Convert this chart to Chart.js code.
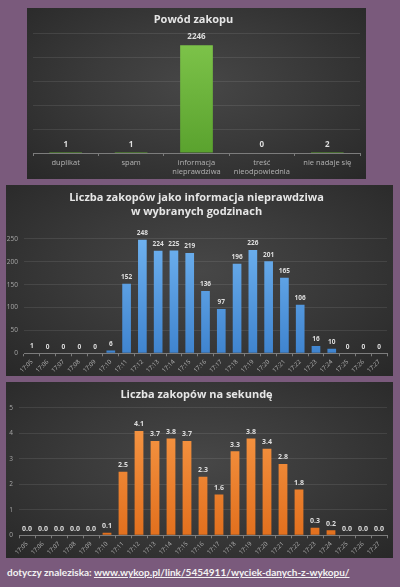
<!DOCTYPE html>
<html>
<head>
<meta charset="utf-8">
<script src="https://cdn.jsdelivr.net/npm/chart.js@4.4.0/dist/chart.umd.min.js"></script>
<style>
  html,body{margin:0;padding:0;}
  body{width:400px;height:587px;background:#7a5a7c;position:relative;overflow:hidden;font-family:"Open Sans",sans-serif;}
  .panel{position:absolute;background:radial-gradient(ellipse at 50% 45%, #474747 0%, #3a3a3a 45%, #282828 100%);}
  .panel canvas{display:block;}
  #footer{position:absolute;left:7px;top:566px;font-family:Lato,sans-serif;font-weight:bold;font-size:10px;color:#f2f2f2;white-space:nowrap;}
  #footer span{text-decoration:underline;}
</style>
</head>
<body>
<div class="panel" style="left:27px;top:8px;width:339px;height:171px;"><canvas id="c1" width="339" height="171"></canvas></div>
<div class="panel" style="left:6px;top:185px;width:387px;height:191px;"><canvas id="c2" width="387" height="191"></canvas></div>
<div class="panel" style="left:6px;top:382px;width:387px;height:176px;"><canvas id="c3" width="387" height="176"></canvas></div>
<div id="footer">dotyczy znaleziska: <span>www.wykop.pl/link/5454911/wyciek-danych-z-wykopu/</span></div>
<script>
// ---- data ----
const reasons = ['duplikat', 'spam', ['informacja', 'nieprawdziwa'], ['treść', 'nieodpowiednia'], 'nie nadaje się'];
const reasonCounts = [1, 1, 2246, 0, 2];
const minutes = ['17:05','17:06','17:07','17:08','17:09','17:10','17:11','17:12','17:13','17:14','17:15','17:16','17:17','17:18','17:19','17:20','17:21','17:22','17:23','17:24','17:25','17:26','17:27'];
const perMinute = [1, 0, 0, 0, 0, 6, 152, 248, 224, 225, 219, 136, 97, 196, 226, 201, 165, 106, 16, 10, 0, 0, 0];
const perSecond = [0.0, 0.0, 0.0, 0.0, 0.0, 0.1, 2.5, 4.1, 3.7, 3.8, 3.7, 2.3, 1.6, 3.3, 3.8, 3.4, 2.8, 1.8, 0.3, 0.2, 0.0, 0.0, 0.0];
const titles = ['Powód zakopu', ['Liczba zakopów jako informacja nieprawdziwa', 'w wybranych godzinach'], 'Liczba zakopów na sekundę'];

Chart.defaults.font.family = '"Open Sans", sans-serif';
Chart.defaults.animation = false;

function grad(top, bottom) {
  return (ctx) => {
    const c = ctx.chart, a = c.chartArea;
    if (!a) return bottom;
    const g = c.ctx.createLinearGradient(0, a.top, 0, a.bottom);
    g.addColorStop(0, top);
    g.addColorStop(1, bottom);
    return g;
  };
}

const valueLabels = {
  id: 'valueLabels',
  afterDatasetsDraw(chart, args, opts) {
    const ctx = chart.ctx;
    const meta = chart.getDatasetMeta(0);
    const data = chart.data.datasets[0].data;
    ctx.save();
    ctx.font = opts.font;
    ctx.fillStyle = opts.color;
    ctx.textAlign = 'center';
    ctx.textBaseline = 'middle';
    meta.data.forEach((bar, i) => {
      ctx.fillText(opts.format(data[i]), bar.x, bar.y - opts.offset);
    });
    ctx.restore();
  }
};

const gridCol = 'rgba(255,255,255,0.09)';
const axisCol = '#7c7c7c';
const titleCol = '#e6e6e6';

function makeChart(id, cfg) {
  return new Chart(document.getElementById(id), {
    type: 'bar',
    data: { labels: cfg.labels, datasets: [{ data: cfg.data, backgroundColor: grad(cfg.top, cfg.bottom), categoryPercentage: 1, barPercentage: cfg.barPct }] },
    plugins: [valueLabels],
    options: {
      responsive: false,
      layout: { padding: { left: 0, right: 6, top: 0, bottom: 0 } },
      plugins: {
        legend: { display: false },
        tooltip: { enabled: false },
        title: { display: true, text: cfg.title, color: titleCol, font: { size: cfg.titleSize, weight: 'bold', lineHeight: cfg.titleLH }, padding: cfg.titlePad },
        valueLabels: { font: cfg.labelFont, color: '#dedede', offset: cfg.labelOffset, format: cfg.format }
      },
      scales: {
        x: {
          grid: { display: true, drawOnChartArea: false, color: axisCol, tickLength: 3, offset: true },
          border: { display: true, color: axisCol },
          ticks: { color: '#b3b3b3', font: { size: cfg.xFont }, padding: cfg.xPad, maxRotation: cfg.rot, minRotation: cfg.rot, autoSkip: false },
          afterFit: (s) => { s.height = cfg.xH; }
        },
        y: {
          min: 0, max: cfg.max,
          grid: { color: gridCol, drawTicks: false },
          border: { display: false },
          ticks: { display: cfg.yTicks, stepSize: cfg.step, color: '#a6a6a6', font: { size: 6.5 }, padding: 6 },
          afterFit: (s) => { s.width = cfg.yW; }
        }
      }
    }
  });
}

makeChart('c1', {
  labels: reasons, data: reasonCounts, top: '#80c64c', bottom: '#5aa22e', barPct: 0.5,
  title: titles[0], titleSize: 11, titleLH: 1.2, titlePad: { top: 5, bottom: 7 },
  labelFont: 'bold 8px "Open Sans"', labelOffset: 8.5, format: (v) => String(v),
  xFont: 7.5, xPad: 2, rot: 0, xH: 26, max: 2500, step: 500, yTicks: false, yW: 6
});

makeChart('c2', {
  labels: minutes, data: perMinute, top: '#6eb1ef', bottom: '#3f84cf', barPct: 0.55,
  title: titles[1], titleSize: 11, titleLH: 1.27, titlePad: { top: 6, bottom: 20 },
  labelFont: 'bold 6.5px "Open Sans"', labelOffset: 6.5, format: (v) => String(v),
  xFont: 6, xPad: 2, rot: 45, xH: 22.7, max: 250, step: 50, yTicks: true, yW: 18
});

makeChart('c3', {
  labels: minutes, data: perSecond, top: '#f89a48', bottom: '#e2701e', barPct: 0.55,
  title: titles[2], titleSize: 11, titleLH: 1.27, titlePad: { top: 6, bottom: 6 },
  labelFont: 'bold 7px "Open Sans"', labelOffset: 6.7, format: (v) => v.toFixed(1),
  xFont: 6, xPad: 2, rot: 45, xH: 22.7, max: 5, step: 1, yTicks: true, yW: 13
});
</script>
</body>
</html>
